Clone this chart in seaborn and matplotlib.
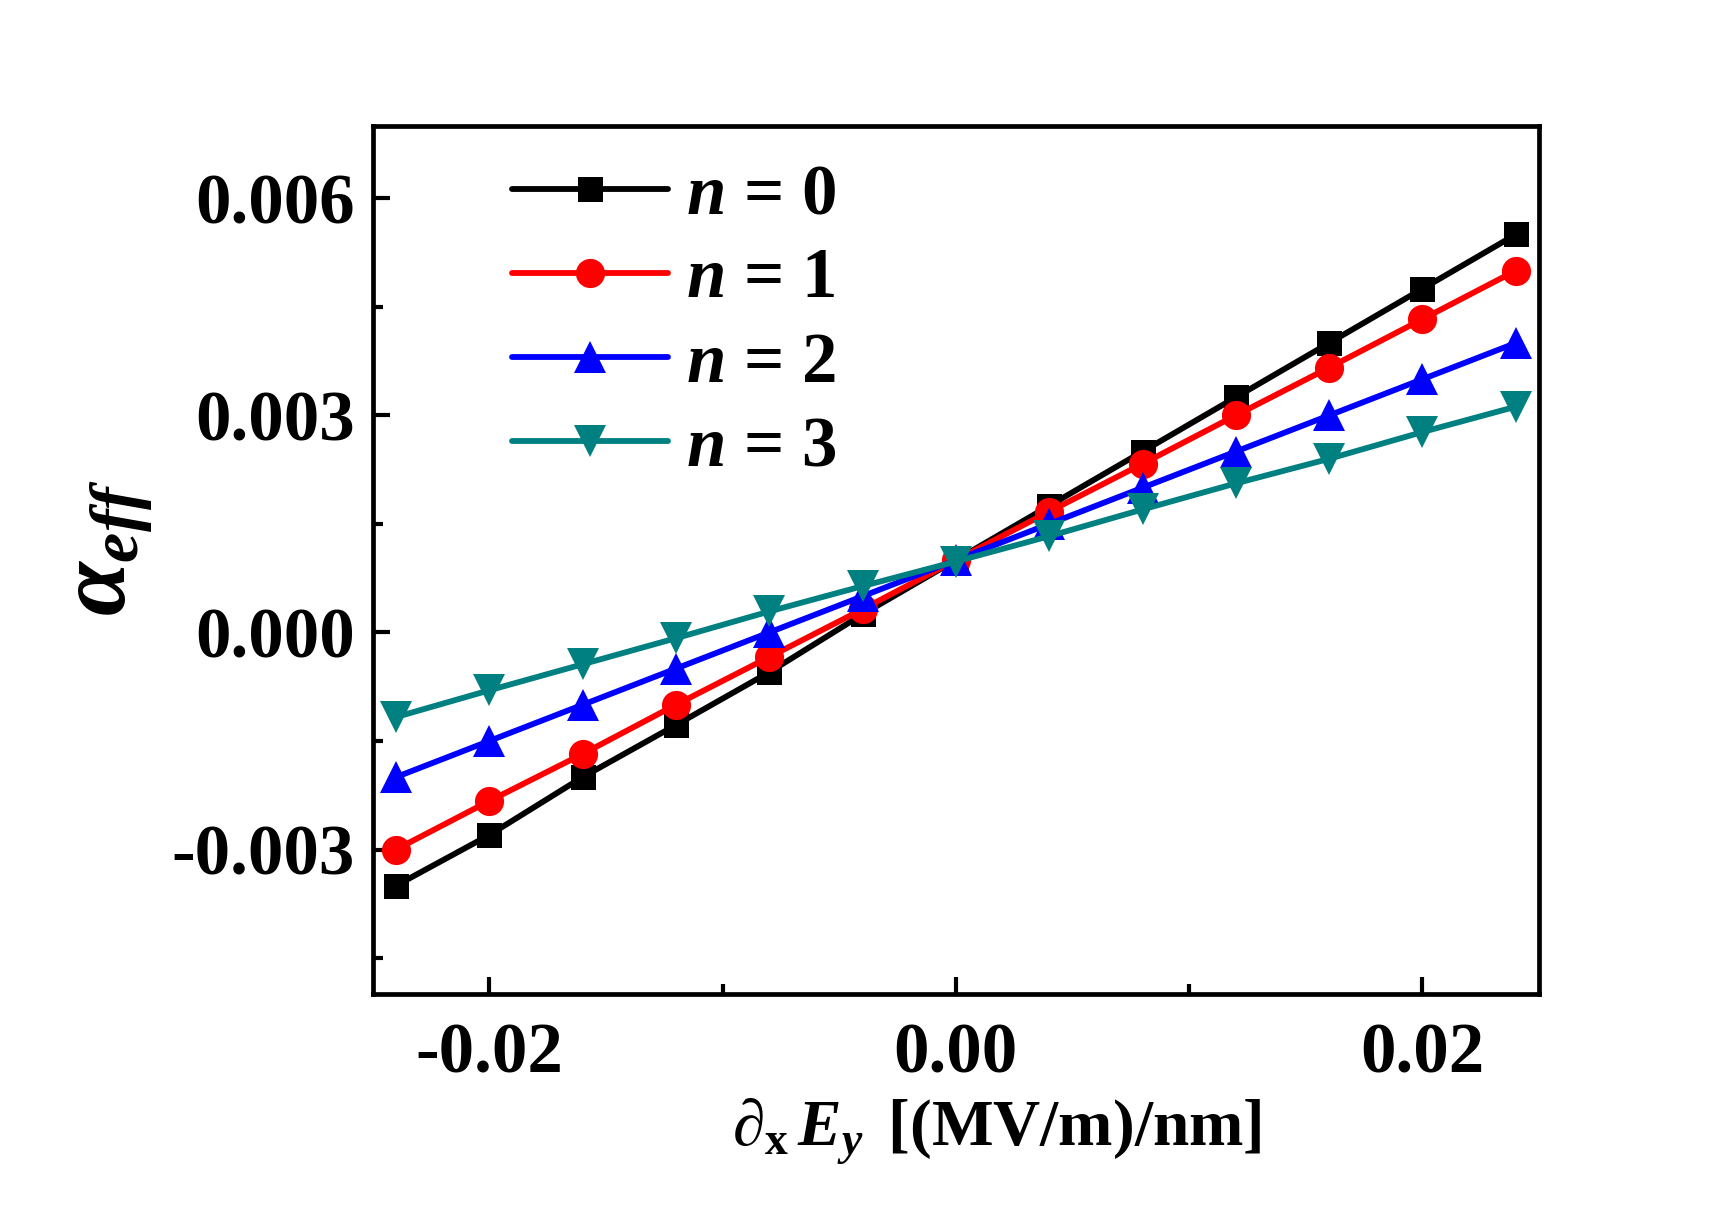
import numpy as np
import pandas as pd
import matplotlib
matplotlib.use("Agg")
import matplotlib.pyplot as plt
import seaborn as sns
from matplotlib.ticker import MultipleLocator, FormatStrFormatter

# --- datos ---
grad_x = [-0.024, -0.020, -0.016, -0.012, -0.008, -0.004, 0.0,
          0.004, 0.008, 0.012, 0.016, 0.020, 0.024]
alpha_n0 = [-0.0035, -0.0028, -0.0020, -0.00128, -0.00055, 0.00025, 0.0010,
            0.00175, 0.0025, 0.00325, 0.0040, 0.00475, 0.0055]
alpha_n1 = [-0.0030, -0.00233, -0.00168, -0.0010, -0.00034, 0.00032, 0.0010,
            0.00167, 0.00233, 0.0030, 0.00366, 0.00433, 0.0050]
alpha_n2 = [-0.0020, -0.0015, -0.0010, -0.0005, 0.0, 0.0005, 0.0010,
            0.0015, 0.0020, 0.0025, 0.0030, 0.0035, 0.0040]
alpha_n3 = [-0.00117, -0.0008, -0.00044, -0.00008, 0.00029, 0.00064, 0.00098,
            0.00133, 0.0017, 0.00206, 0.0024, 0.00277, 0.00312]

etiquetas = ['$n$ = 0', '$n$ = 1', '$n$ = 2', '$n$ = 3']
series = [alpha_n0, alpha_n1, alpha_n2, alpha_n3]
colores = ['black', 'red', 'blue', 'teal']
marcadores = ['s', 'o', '^', 'v']
tam_marcador = [18, 21, 23, 23]

sns.set_style('white')
plt.rcParams['font.family'] = ['Liberation Serif', 'DejaVu Serif']
plt.rcParams['font.weight'] = 'bold'
plt.rcParams['mathtext.fontset'] = 'custom'
plt.rcParams['mathtext.rm'] = 'Liberation Serif:bold'
plt.rcParams['mathtext.it'] = 'Liberation Serif:italic:bold'
plt.rcParams['mathtext.bf'] = 'Liberation Serif:bold'
plt.rcParams['axes.unicode_minus'] = False
for k in ['text.color', 'axes.labelcolor', 'xtick.color', 'ytick.color']:
    plt.rcParams[k] = 'black'

fig = plt.figure(figsize=(17.13, 12.11), dpi=100)
ax = fig.add_axes([0.2175, 0.179, 0.681, 0.717])

for lab, ys, c, m, ms in zip(etiquetas, series, colores, marcadores, tam_marcador):
    df = pd.DataFrame({'x': grad_x, 'y': ys})
    sns.lineplot(data=df, x='x', y='y', ax=ax, color=c, marker=m,
                 markersize=ms, markeredgewidth=0, label=lab)

# grosor de línea como en el original
for ln in ax.get_lines():
    ln.set_linewidth(4.2)
    ln.set_solid_capstyle('round')

ax.set_xlim(-0.025, 0.025)
ax.set_ylim(-0.005, 0.007)
ax.xaxis.set_major_locator(MultipleLocator(0.02))
ax.xaxis.set_minor_locator(MultipleLocator(0.01))
ax.yaxis.set_major_locator(MultipleLocator(0.003))
ax.yaxis.set_minor_locator(MultipleLocator(0.0015))
ax.xaxis.set_major_formatter(FormatStrFormatter('%.2f'))
ax.yaxis.set_major_formatter(FormatStrFormatter('%.3f'))

ax.tick_params(which='both', direction='in', width=3, labelsize=51,
               top=False, right=False, left=True, bottom=True)
ax.tick_params(which='major', length=12)
ax.tick_params(which='minor', length=7)
ax.tick_params(axis='x', pad=20)
ax.tick_params(axis='y', pad=13)
for s in ax.spines.values():
    s.set_linewidth(3.4)
    s.set_color('black')

ax.set_xlabel(r'$\partial_{\mathbf{x}}\,\mathit{E}_{\mathit{y}}\,$ [(MV/m)/nm]',
              fontsize=47, fontweight='bold')
ax.xaxis.set_label_coords(0.535, -0.118)
ax.set_ylabel(r'$\alpha_{eff}$', fontsize=70)
ax.yaxis.set_label_coords(-0.187, 0.515)

leg = ax.legend(loc='upper left', frameon=False, fontsize=51,
                handlelength=2.2, handletextpad=0.25, labelspacing=0.27,
                borderaxespad=0.3, bbox_to_anchor=(0.077, 1.014))
for h in leg.get_lines():
    h.set_linewidth(4.2)
    h.set_solid_capstyle('round')

fig.savefig('out.png', dpi=100)
